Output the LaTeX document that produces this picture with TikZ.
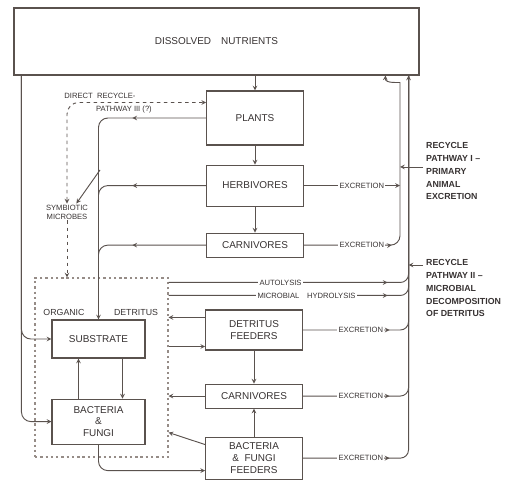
\documentclass[tikz,border=0pt]{standalone}
\usepackage{fontspec}
\setmainfont{Liberation Sans}
\usepackage{tikz}
\usetikzlibrary{arrows,positioning,calc,decorations.markings}
\definecolor{inkc}{RGB}{90,82,78}
\definecolor{textc}{RGB}{55,50,50}
\definecolor{dotc}{RGB}{150,140,135}

\begin{document}
\begin{tikzpicture}[
                x=0.03cm, y=-0.03cm,
                box/.style={rectangle, draw=inkc, line width=0.9pt, fill=white, text=textc, align=center, minimum width=2.9cm, font=\fontsize{8.5}{10}\selectfont, inner sep=1pt},
                lbl/.style={text=textc, font=\fontsize{6.5}{7.5}\selectfont, inner sep=1pt},
                onl/.style={lbl, fill=white},
                reclbl/.style={text=textc, font=\bfseries\fontsize{7.5}{11}\selectfont, align=left, anchor=north west, inner sep=0pt},
                line/.style={draw=inkc, line width=0.8pt},
                arrow/.style={line, ->, >=stealth},
                dline/.style={line, dashed, >=stealth},
                midarrow/.style={postaction={decorate}, decoration={markings, mark=at position #1 with {\arrow{stealth}}}}
            ]
                \useasboundingbox (0,0) rectangle (522,483);

                % Nutrient pool
                \node[box, minimum width=12.15cm, minimum height=2.01cm] (nut) at (216.5,41.5) {DISSOLVED\quad NUTRIENTS};

                % Grazing chain (top to bottom)
                \node[box, minimum height=1.62cm] (plants) at (255,118) {PLANTS};
                \node[box, minimum height=1.23cm, below=0.57cm of plants] (herb) {HERBIVORES};
                \node[box, minimum height=0.72cm, below=0.78cm of herb] (carn1) {CARNIVORES};

                % Detritus chain
                \node[box, minimum height=1.2cm] (detfeed) at (254,330) {DETRITUS\\FEEDERS};
                \node[box, minimum height=0.72cm, below=0.99cm of detfeed] (carn2) {CARNIVORES};
                \node[box, minimum height=1.26cm, below=0.84cm of carn2] (bffeed) {BACTERIA\\\&\ \ FUNGI\\FEEDERS};

                % Organic detritus compartment
                \node[draw=dotc, line width=0.9pt, dash pattern=on 2pt off 2.5pt, minimum width=3.99cm, minimum height=5.37cm] (odet) at (101.5,367.5) {};
                \node[box, minimum width=2.79cm, minimum height=1.14cm] (subst) at (98.5,339) {SUBSTRATE};
                \node[box, minimum width=2.79cm, minimum height=1.35cm, below=1.2cm of subst] (bact) {BACTERIA\\\&\\FUNGI};

                % Recycle labels
                \node[reclbl] (rec1) at (426,142) {RECYCLE\\PATHWAY I --\\PRIMARY\\ANIMAL\\EXCRETION};
                \node[reclbl] (rec2) at (426,259) {RECYCLE\\PATHWAY II --\\MICROBIAL\\DECOMPOSITION\\OF DETRITUS};

                % Helper points
                \coordinate (lt) at ($(nut.south west)+(8,0)$);
                \coordinate (p1top) at ($(nut.south east)+(-34,0)$);
                \coordinate (p1x) at (400,92);
                \coordinate (p2top) at ($(nut.south east)+(-11,0)$);
                \coordinate (auto) at ($(odet.north east)+(0,5)$);
                \coordinate (hydr) at ($(odet.north east)+(0,18)$);
                \coordinate (drp) at ($(plants.north west)+(0,12)$);
                \coordinate (hsym) at (100,170);
                \coordinate (df1) at ($(detfeed.north west)+(0,8)$);
                \coordinate (df2) at ($(detfeed.south west)+(0,-4)$);
                \coordinate (bfout) at ($(odet.south east)+(0,-25)$);
                \coordinate (bfin) at ($(bffeed.south west)+(0,-9)$);
                \coordinate (rec1p) at (423,167);
                \coordinate (rec2p) at (423,265);

                % Uptake and grazing
                \draw[arrow] (plants.north |- nut.south) -- (plants.north);
                \draw[arrow] (plants.south) -- (herb.north);
                \draw[arrow] (herb.south) -- (carn1.north);
                \draw[arrow] (detfeed.south) -- (carn2.north);
                \draw[arrow] (bffeed.north) -- (carn2.south);

                % Dead matter to substrate
                \draw[arrow, rounded corners=8pt, midarrow=63pt] (plants.west) -| (subst.north);
                \draw[line, rounded corners=8pt, midarrow=63pt] (herb.west) -| (subst.north);
                \draw[line, rounded corners=8pt, midarrow=63pt] (carn1.west) -| (subst.north);

                % Nutrients to substrate and microbes
                \draw[arrow, rounded corners=8pt] (lt) |- (subst.west);
                \draw[arrow, rounded corners=8pt] (lt) |- (bact.west);
                \draw[arrow] ($(bact.north)+(-20,0)$) -- ($(subst.south)+(-20,0)$);
                \draw[arrow] ($(subst.south)+(24,0)$) -- ($(bact.north)+(24,0)$);
                \draw[arrow, rounded corners=8pt] (bact.south) |- (bfin);

                % Symbiotic microbes, direct recycle
                \node[lbl, align=center] (symb) at (67,212) {SYMBIOTIC\\MICROBES};
                \draw[arrow] (hsym) -- ([xshift=8pt]symb.north);
                \draw[dline, <->, rounded corners=10pt] (symb.north) |- (drp);
                \draw[dline, ->] (symb.south) -- (symb.south |- odet.north);
                \node[lbl] (drlbl) at (100,96) {DIRECT\ \ RECYCLE-};
                \node[lbl] (drlbl2) at (124,110) {PATHWAY III (?)};

                % Detritus exchanges
                \draw[arrow] (df1) -- (df1 -| odet.east);
                \draw[arrow] (df2 -| odet.east) -- (df2);
                \draw[arrow] (carn2.west) -- (carn2.west -| odet.east);
                \draw[arrow] ($(bffeed.north west)+(0,8)$) -- (bfout);
                \node[lbl, font=\fontsize{7.5}{9}\selectfont] (odl1) at (64,312) {ORGANIC};
                \node[lbl, font=\fontsize{7.5}{9}\selectfont] (odl2) at (136,312) {DETRITUS};

                % Pathway I
                \draw[arrow] (herb.east) -- (herb.east -| p1x);
                \draw[arrow, rounded corners=8pt, midarrow=75pt] (carn1.east) -| (p1x) .. controls (400,82) and (385,84) .. (p1top);
                \draw[arrow] (rec1p) -- (rec1p -| p1x);

                % Pathway II
                \draw[line, rounded corners=7pt, midarrow=74pt] (bffeed.east) -| (p2top);
                \draw[line, rounded corners=7pt, midarrow=74pt] (carn2.east) -| (p2top);
                \draw[line, rounded corners=7pt, midarrow=74pt] (detfeed.east) -| (p2top);
                \draw[line, rounded corners=7pt, midarrow=187pt] (auto) -| (p2top);
                \draw[line, rounded corners=7pt, midarrow=187pt] (hydr) -| (p2top);
                \draw[arrow] (p2top |- carn1.east) -- (p2top);
                \draw[arrow] (rec2p) -- (rec2p -| p2top);

                % Line labels
                \node[onl] (exc1) at ($(herb.east)+(58,0)$) {EXCRETION};
                \node[onl] (exc2) at ($(carn1.east)+(58,0)$) {EXCRETION};
                \node[onl] (exc3) at ($(detfeed.east)+(58,0)$) {EXCRETION};
                \node[onl] (exc4) at ($(carn2.east)+(58,0)$) {EXCRETION};
                \node[onl] (exc5) at ($(bffeed.east)+(58,0)$) {EXCRETION};
                \node[onl] (autol) at ($(auto)+(112,0)$) {AUTOLYSIS};
                \node[onl] (hydl) at ($(hydr)+(138,0)$) {MICROBIAL\quad HYDROLYSIS};
            \end{tikzpicture}
\end{document}
